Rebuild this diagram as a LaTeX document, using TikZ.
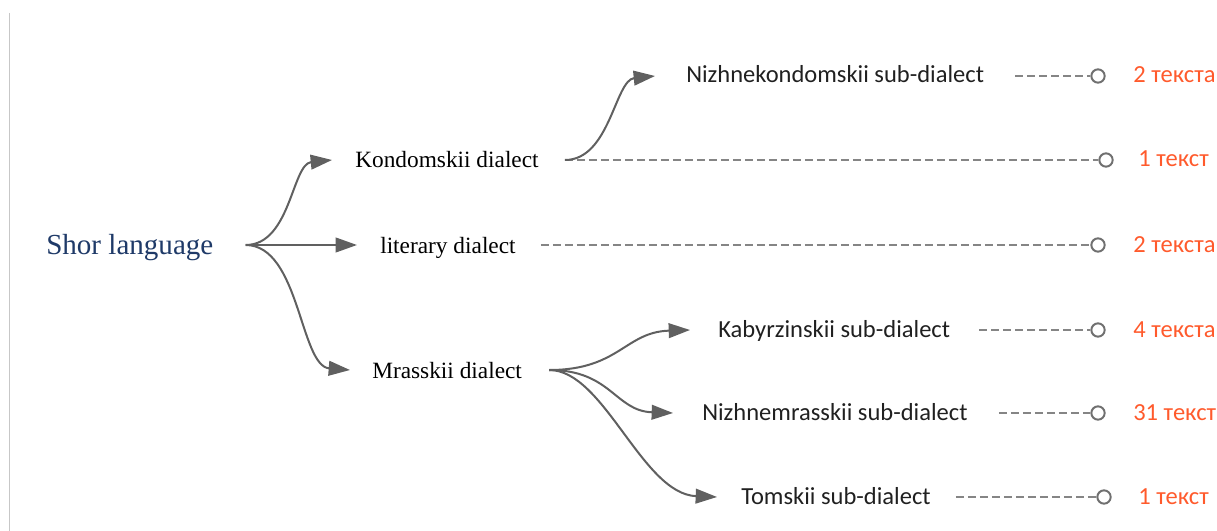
\documentclass[tikz,border=0pt]{standalone}
\usepackage{fontspec}
\setmainfont{Liberation Serif}
\newfontfamily\carl{Carlito}
\usetikzlibrary{arrows.meta}
\definecolor{arrowgray}{HTML}{606060}
\definecolor{dashgray}{HTML}{858585}
\definecolor{circgray}{HTML}{707070}
\definecolor{shorblue}{HTML}{1F3A68}
\definecolor{numorange}{HTML}{FF5A2C}
\definecolor{subtext}{HTML}{202020}
\begin{document}
\begin{tikzpicture}[x=0.75pt,y=-0.75pt,
  rootnode/.style={inner sep=0pt, anchor=west, font=\fontsize{21.8}{26}\selectfont, text=shorblue, text height=15.5pt, text depth=2pt},
  serifnode/.style={inner sep=0pt, anchor=west, font=\fontsize{17.5}{20}\selectfont, text height=14pt, text depth=2pt},
  subnode/.style={inner sep=0pt, anchor=west, font=\carl\fontsize{18.4}{22}\selectfont, text height=12.5pt, text depth=2pt, text=subtext},
  numnode/.style={inner sep=0pt, anchor=west, font=\carl\fontsize{18.4}{22}\selectfont, text height=12.5pt, text depth=2pt, text=numorange},
  endcircle/.style={circle, draw=circgray, line width=1.5pt, minimum size=10pt, inner sep=0pt, fill=white},
  link/.style={draw=arrowgray, line width=1.5pt, -{Triangle[length=16pt,width=11pt]}},
  leader/.style={draw=dashgray, line width=1.2pt, dash pattern=on 6pt off 3pt},
]
\useasboundingbox (0,0) rectangle (1217,531);
\draw[black!22, line width=0.9pt] (9.5,13) -- (9.5,531);

% text nodes
\node[rootnode] (shor) at (46,245) {Shor language};
\node[serifnode] (kond) at (355,160) {Kondomskii dialect};
\node[serifnode] (lit) at (380,245) {literary dialect};
\node[serifnode] (mras) at (372,370) {Mrasskii dialect};
\node[subnode] (nkond) at (686,76) {Nizhnekondomskii sub-dialect};
\node[subnode] (kab) at (718,330) {Kabyrzinskii sub-dialect};
\node[subnode] (nmras) at (702,413) {Nizhnemrasskii sub-dialect};
\node[subnode] (tom) at (741,497) {Tomskii sub-dialect};

% end circles
\node[endcircle] (c1) at (1098,76) {};
\node[endcircle] (c2) at (1106,160) {};
\node[endcircle] (c3) at (1098,245) {};
\node[endcircle] (c4) at (1098,330) {};
\node[endcircle] (c5) at (1098,413) {};
\node[endcircle] (c6) at (1104,497) {};

% counts
\node[numnode] (n1) at (1133,76) {2 текста};
\node[numnode] (n2) at (1138,160) {1 текст};
\node[numnode] (n3) at (1133,245) {2 текста};
\node[numnode] (n4) at (1133,330) {4 текста};
\node[numnode] (n5) at (1133,413) {31 текст};
\node[numnode] (n6) at (1138,497) {1 текст};

% branch points
\coordinate (s0) at ([xshift=24pt]shor.east);
\coordinate (s1) at ([xshift=19.5pt]kond.east);
\coordinate (s2) at ([xshift=20.25pt]mras.east);

% dashed leaders (drawn first so arrows lie on top)
\draw[leader] ([xshift=23.25pt]nkond.east) -- (c1);
\draw[leader] (s1) -- (c2);
\draw[leader] ([xshift=18.75pt]lit.east) -- (c3);
\draw[leader] ([xshift=21.75pt]kab.east) -- (c4);
\draw[leader] ([xshift=23.25pt]nmras.east) -- (c5);
\draw[leader] ([xshift=18.75pt]tom.east) -- (c6);

% links
\draw[link] (s0) .. controls +(45,0) and +(-40,4) .. ([xshift=-17.25pt]kond.west);
\draw[link] (s0) -- ([xshift=-17.25pt]lit.west);
\draw[link] (s0) .. controls +(54,0) and +(-50,-4) .. ([xshift=-16.5pt]mras.west);
\draw[link] (s1) .. controls +(45,0) and +(-40,4) .. ([xshift=-23.25pt]nkond.west);
\draw[link] (s2) .. controls +(70,0) and +(-65,2) .. ([xshift=-21pt]kab.west);
\draw[link] (s2) .. controls +(62,0) and +(-58,-2) .. ([xshift=-21.75pt]nmras.west);
\draw[link] (s2) .. controls +(55,0) and +(-75,-3) .. ([xshift=-18pt]tom.west);
\end{tikzpicture}
\end{document}
